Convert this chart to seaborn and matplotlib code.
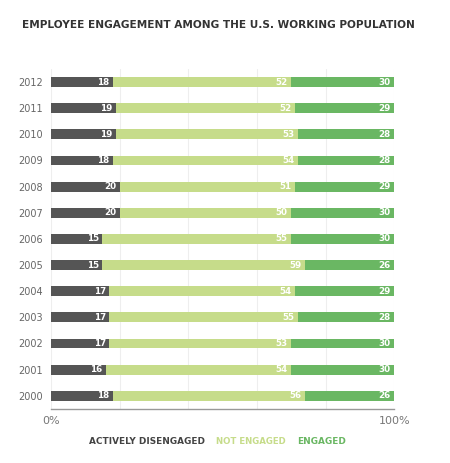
import pandas as pd
import seaborn as sns
import matplotlib.pyplot as plt
from matplotlib import font_manager

years = ["2012", "2011", "2010", "2009", "2008", "2007", "2006",
         "2005", "2004", "2003", "2002", "2001", "2000"]
actively_disengaged = [18, 19, 19, 18, 20, 20, 15, 15, 17, 17, 17, 16, 18]
not_engaged = [52, 52, 53, 54, 51, 50, 55, 59, 54, 55, 53, 54, 56]
engaged = [30, 29, 28, 28, 29, 30, 30, 26, 29, 28, 30, 30, 26]
x_ticks = [0, 100]
x_tick_labels = ["0%", "100%"]
legend_labels = ["ACTIVELY DISENGAGED", "NOT ENGAGED", "ENGAGED"]

DARK = "#555555"
LIGHT = "#c6dc8a"
GREEN = "#6ab763"

names = {f.name for f in font_manager.fontManager.ttflist}
narrow = "DejaVu Sans Condensed" if "DejaVu Sans Condensed" in names else "DejaVu Sans"

sns.set_style("white")
plt.rcParams["font.family"] = [narrow, "DejaVu Sans"]

df = pd.DataFrame({
    "year": years,
    "dis": actively_disengaged,
    "not": not_engaged,
    "eng": engaged,
})
df["c1"] = df["dis"]
df["c2"] = df["dis"] + df["not"]
df["c3"] = df["c2"] + df["eng"]

fig = plt.figure(figsize=(4.5, 4.63), dpi=100)
ax = fig.add_axes([0.113, 0.117, 0.763, 0.734])

for col, color in [("c3", GREEN), ("c2", LIGHT), ("c1", DARK)]:
    sns.barplot(data=df, x=col, y="year", order=years, orient="h",
                color=color, width=0.38, saturation=1, ax=ax,
                edgecolor="none", linewidth=0)

# segment labels, right aligned at the end of each segment
for i, row in df.iterrows():
    for val, end in [(row["dis"], row["c1"]), (row["not"], row["c2"]), (row["eng"], row["c3"])]:
        ax.text(end - 1.0, i, str(val), ha="right", va="center",
                color="white", fontsize=6.3, fontweight="bold")

ax.set_xlim(0, 100)
ax.set_ylim(12.5, -0.5)
ax.set_xticks(x_ticks)
ax.set_xticklabels(x_tick_labels, color="#777777", fontsize=8)
ax.tick_params(axis="y", length=0, labelsize=7, labelcolor="#666666", pad=6)
ax.tick_params(axis="x", length=0, pad=5)
ax.set_xlabel("")
ax.set_ylabel("")
for v in [0, 20, 40, 60, 80, 100]:
    ax.axvline(v, color="#eeeeee", lw=0.8, zorder=0)
for s in ["top", "right", "left"]:
    ax.spines[s].set_visible(False)
ax.spines["bottom"].set_color("#999999")
ax.spines["bottom"].set_linewidth(1)
ax.set_axisbelow(True)


def fit_text(x0, y, s, width_px, size, **kw):
    # shrink font until the string fits the given pixel width
    t = fig.text(x0 / 450, y, s, fontsize=size, **kw)
    r = fig.canvas.get_renderer()
    w = t.get_window_extent(r).width
    if w > width_px:
        t.set_fontsize(size * width_px / w)
    return t


fit_text(22, 1 - 25 / 463, "EMPLOYEE ENGAGEMENT AMONG THE U.S. WORKING POPULATION",
         395, 10.5, ha="left", va="center", fontweight="bold", color="#333333")

leg_y = 1 - 442 / 463
for label, x0, w, color in zip(legend_labels, [89, 216, 297], [116, 71, 49],
                               ["#444444", LIGHT, GREEN]):
    fit_text(x0, leg_y, label, w, 6.8, color=color, fontweight="bold",
             ha="left", va="center")

fig.savefig("out.png", dpi=100)
